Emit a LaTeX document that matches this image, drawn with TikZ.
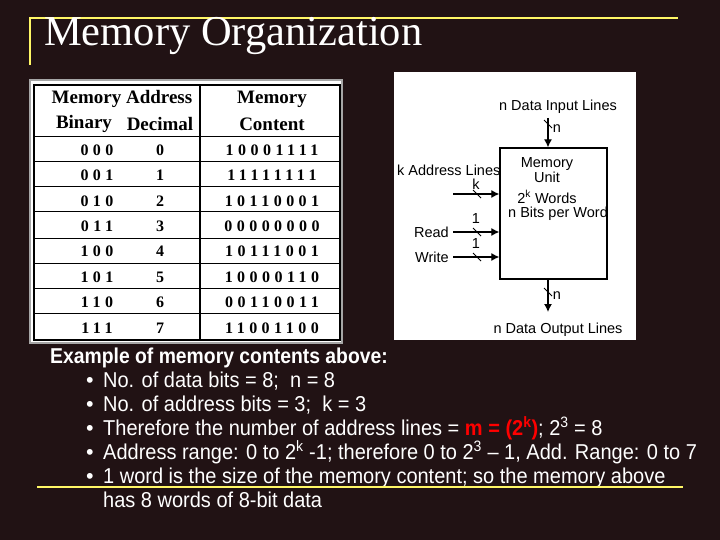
\documentclass[tikz,border=0pt]{standalone}
\usepackage{fontspec}
\usetikzlibrary{arrows.meta,calc}
\setmainfont{Liberation Serif}
\setsansfont{Liberation Sans}
\begin{document}
\begin{tikzpicture}[x=1pt,y=-1pt,
  tb/.style={font=\fontsize{19}{19}\selectfont\bfseries, inner sep=0pt, text=black},
  td/.style={font=\fontsize{16}{16}\selectfont\bfseries\addfontfeatures{LetterSpace=28}, inner sep=0pt, text=black},
  dg/.style={font=\sffamily\fontsize{14.5}{14.5}\selectfont, inner sep=0pt, text=black},
  bl/.style={font=\sffamily\fontsize{21.5}{21.5}\selectfont, inner sep=0pt, text=white, anchor=base west, transform shape},
  arr/.style={line width=1.2pt, -{Latex[length=8pt,width=8pt]}},
  yl/.style={draw=yellow!60!white, line width=2.2pt}]
\fill[fill={rgb,255:red,33;green,18;blue,20}] (0,0) rectangle (720,540);
\useasboundingbox (0,0) rectangle (720,540);
% title
\draw[yl] (30,65) -- (30,18) -- (678,18);
\node[anchor=base west, inner sep=0pt, text=white, font=\fontsize{42.5}{42.5}\selectfont] (title) at (44,46) {Memory Organization};
% table
\fill[white, draw=gray!70, line width=1.5pt] (30,80) rectangle (342,343);
\draw[line width=1.8pt] (34,85) rectangle (340,340);
\draw[line width=1.8pt] (200,85) -- (200,340);
\foreach \y in {137,162,187,212,238,263,288,313} \draw[line width=1pt] (34,\y) -- (340,\y);
\node[tb] (h1) at (122,99) {Memory Address};
\node[tb] (h2) at (84,124) {Binary};
\node[tb] (h3) at (160,124) {Decimal};
\node[tb] (h4) at (272,99) {Memory};
\node[tb] (h5) at (272,124) {Content};
\foreach \b/\d/\c [count=\i from 0] in {000/0/10001111,001/1/11111111,010/2/10110001,011/3/00000000,100/4/10111001,101/5/10000110,110/6/00110011,111/7/11001100}{
  \node[td] (b\i) at (97,{150+25.4*\i}) {\b};
  \node[td] (d\i) at (160,{150+25.4*\i}) {\d};
  \node[td] (c\i) at (272,{150+25.4*\i}) {\c};
}
% memory unit
\fill[white] (394,72) rectangle (636,340);
\node[draw, line width=1.3pt, minimum width=107pt, minimum height=131pt, inner sep=0pt] (mu) at (553.5,213.5) {};
\node[dg] (tin) at (558,107) {n Data Input Lines};
\node[dg] (tout) at (558,330) {n Data Output Lines};
\node[dg, anchor=west] (tk) at (397,170) {k Address Lines};
\node[dg, anchor=east] (tr) at (449,232) {Read};
\node[dg, anchor=east] (tw) at (449,257) {Write};
\node[dg] (m1) at (547,164) {Memory};
\node[dg] (m2) at (547,177) {Unit};
\node[dg] (m3) at (547,197) {2\textsuperscript{k} Words};
\node[dg] (m4) at (558,214) {n Bits per Word};
\coordinate (ink) at (453,194);
\coordinate (inr) at (453,232);
\coordinate (inw) at (453,257);
\coordinate (ind) at (548,118);
\coordinate (outd) at (548,312);
\draw[arr] (ind) -- (ind |- mu.north);
\draw[line width=1pt] (544,120) -- (552,128);
\node[dg] (ln1) at (557,129) {n};
\draw[arr] (outd |- mu.south) -- (outd);
\draw[line width=1pt] (544,288) -- (552,296);
\node[dg] (ln2) at (557,296) {n};
\foreach \c/\lab/\nm/\dy in {ink/k/lk/-10,inr/1/lr/-13,inw/1/lw/-13}{
  \draw[arr] (\c) -- (\c -| mu.west);
  \draw[line width=1pt] ($(\c)+(20,-4)$) -- ($(\c)+(28,4)$);
  \node[dg] (\nm) at ($(\c)+(23,\dy)$) {\lab};
}
% text
\node[bl, font=\sffamily\bfseries\fontsize{21.5}{21.5}\selectfont, xscale=0.9] (ex) at (50,363) {Example of memory contents above:};
\foreach \t [count=\i from 0] in {{No. of data bits = 8;\ \ n = 8},{No. of address bits = 3;\ \ k = 3},{Therefore the number of address lines = \textcolor{red}{\bfseries m = (2\textsuperscript{k})}; 2\textsuperscript{3} = 8},{Address range: 0 to 2\textsuperscript{k} -1; therefore 0 to 2\textsuperscript{3} -- 1, Add. Range: 0 to 7},{1 word is the size of the memory content; so the memory above}}{
  \node[bl] (bul\i) at (86,{387+24*\i}) {\textbullet};
  \node[bl, xscale=0.93] (t\i) at (103,{387+24*\i}) {\t};
}
\node[bl, xscale=0.93] (t5) at (103,507) {has 8 words of 8-bit data};
\draw[yl] (37,487) -- (683,487);
\end{tikzpicture}
\end{document}
